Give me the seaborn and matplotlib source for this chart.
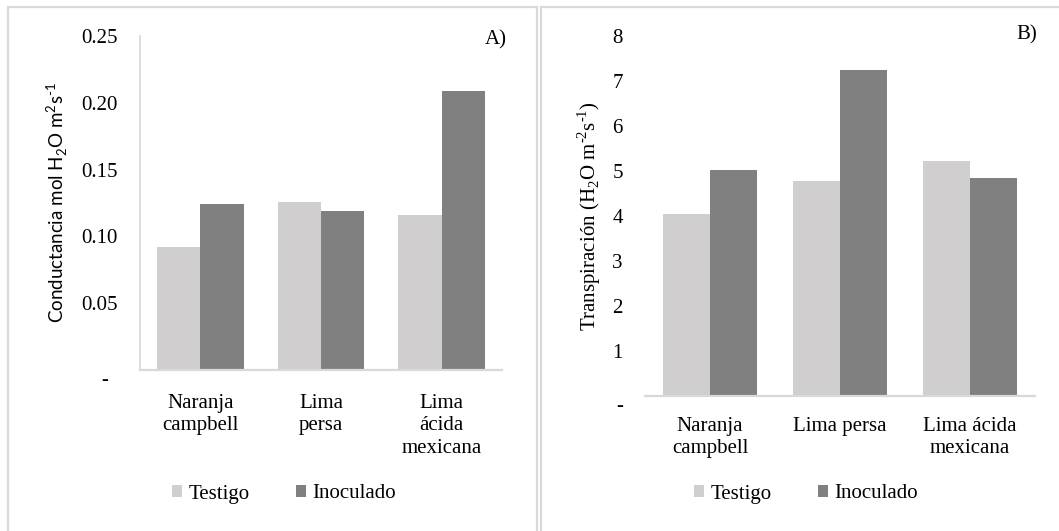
import numpy as np
import pandas as pd
import matplotlib
matplotlib.use("Agg")
import matplotlib.pyplot as plt
from matplotlib.patches import Rectangle
from matplotlib.transforms import ScaledTranslation
import seaborn as sns

# ---- data -------------------------------------------------------------
variedades_a = ["Naranja\ncampbell", "Lima\npersa", "Lima\nácida\nmexicana"]
variedades_b = ["Naranja\ncampbell", "Lima persa", "Lima ácida\nmexicana"]
tratamientos = ["Testigo", "Inoculado"]

conductancia_testigo = [0.092, 0.1255, 0.116]
conductancia_inoculado = [0.124, 0.119, 0.209]

transpiracion_testigo = [4.04, 4.78, 5.22]
transpiracion_inoculado = [5.02, 7.23, 4.85]

yticks_a = [0, 0.05, 0.10, 0.15, 0.20, 0.25]
yticklabels_a = ["-", "0.05", "0.10", "0.15", "0.20", "0.25"]
yticks_b = [0, 1, 2, 3, 4, 5, 6, 7, 8]
yticklabels_b = ["-", "1", "2", "3", "4", "5", "6", "7", "8"]

colores = ["#D0CECE", "#808080"]
gris_eje = "#D9D9D9"


def tabla(categorias, testigo, inoculado):
    return pd.DataFrame({
        "variedad": categorias * 2,
        "tratamiento": [tratamientos[0]] * len(categorias) + [tratamientos[1]] * len(categorias),
        "valor": list(testigo) + list(inoculado),
    })


df_a = tabla(variedades_a, conductancia_testigo, conductancia_inoculado)
df_b = tabla(variedades_b, transpiracion_testigo, transpiracion_inoculado)

# ---- style ------------------------------------------------------------
sns.set_style("white")
plt.rcParams["font.family"] = ["Liberation Serif", "DejaVu Serif"]
plt.rcParams["text.color"] = "black"
plt.rcParams["axes.labelcolor"] = "black"
plt.rcParams["xtick.color"] = "black"
plt.rcParams["ytick.color"] = "black"

W, H = 1059, 531
fig = plt.figure(figsize=(W / 100, H / 100), dpi=100)

# panel frames
fig.patches.append(Rectangle((8 / W, -0.1), (537 - 8) / W, (531 - 7) / H + 0.1,
                             transform=fig.transFigure, fill=False,
                             edgecolor=gris_eje, linewidth=1.6, zorder=0))
fig.patches.append(Rectangle((541 / W, -0.1), 0.5, (531 - 7) / H + 0.1,
                             transform=fig.transFigure, fill=False,
                             edgecolor=gris_eje, linewidth=1.6, zorder=0))

ax_a = fig.add_axes([140 / W, (H - 370) / H, 362 / W, 334 / H])
ax_b = fig.add_axes([645 / W, (H - 396) / H, 390 / W, 360.3 / H])

FS = 15


def dibujar(ax, df, yticks, yticklabels, ylim, xpad, left_spine):
    sns.barplot(data=df, x="variedad", y="valor", hue="tratamiento",
                palette=colores, saturation=1, width=0.72, ax=ax,
                errorbar=None, linewidth=0)
    ax.set_xlim(-0.5, 2.5)
    ax.set_ylim(*ylim)
    ax.set_yticks(yticks)
    ax.set_yticklabels(yticklabels, fontsize=FS)
    ax.tick_params(axis="both", length=0)
    ax.tick_params(axis="y", pad=16)
    ax.tick_params(axis="x", pad=xpad)
    for lab in ax.get_xticklabels():
        lab.set_fontsize(FS)
        lab.set_linespacing(1.25)
    ax.set_xlabel("")
    for s in ["top", "right"]:
        ax.spines[s].set_visible(False)
    ax.spines["left"].set_visible(left_spine)
    ax.spines["left"].set_color(gris_eje)
    ax.spines["left"].set_linewidth(1.3)
    ax.spines["bottom"].set_color(gris_eje)
    ax.spines["bottom"].set_linewidth(1.6)
    ax.get_legend().remove()


dibujar(ax_a, df_a, yticks_a, yticklabels_a, (0, 0.25), 17, True)
dibujar(ax_b, df_b, yticks_b, yticklabels_b, (0, 8), 15, False)

# zero label drawn as a dash, set slightly lower
for ax, dx in [(ax_a, -10), (ax_b, 0)]:
    lab0 = ax.get_yticklabels()[0]
    lab0.set_transform(lab0.get_transform() + ScaledTranslation(dx / 100, -8 / 100, fig.dpi_scale_trans))

HY = "\u2010"
ax_a.set_ylabel("Conductancia mol H$_\\mathregular{2}$O m$^\\mathregular{2}$s$^\\mathregular{" + HY + "1}$",
                fontsize=13.5, family=["Lato", "DejaVu Sans"])
ax_a.yaxis.set_label_coords((70 - 140) / 362, 0.5)
ax_b.set_ylabel("Transpiración (H$_\\mathregular{2}$O m$^\\mathregular{" + HY + "2}$s$^\\mathregular{" + HY + "1}$)",
                fontsize=FS)
ax_b.yaxis.set_label_coords((603 - 645) / 390, 0.5)

# legends
for ax, cx in [(ax_a, 284), (ax_b, 806)]:
    handles = [Rectangle((0, 0), 1, 1, facecolor=c, edgecolor="none") for c in colores]
    ax.legend(handles, tratamientos, loc="center", ncol=2, frameon=False,
              bbox_to_anchor=(cx / W, (H - 494) / H), bbox_transform=fig.transFigure,
              fontsize=FS, handlelength=0.5, handleheight=0.5, handletextpad=0.3,
              columnspacing=2.2)

fig.text(507 / W, 1 - 40 / H, "A)", ha="right", va="center", fontsize=FS)
fig.text(1037 / W, 1 - 35 / H, "B)", ha="right", va="center", fontsize=FS)

fig.savefig("out.png", dpi=100)
